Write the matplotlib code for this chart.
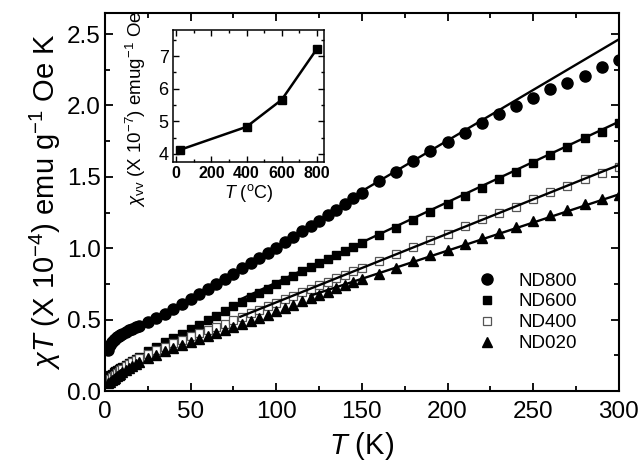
import numpy as np
import matplotlib
matplotlib.use("Agg")
import matplotlib.pyplot as plt
from matplotlib.ticker import MultipleLocator, FormatStrFormatter

plt.rcParams['font.family'] = ['Liberation Sans', 'DejaVu Sans']
plt.rcParams['mathtext.fontset'] = 'custom'
plt.rcParams['mathtext.rm'] = 'Liberation Sans'
plt.rcParams['mathtext.it'] = 'Liberation Sans:italic'
plt.rcParams['mathtext.bf'] = 'Liberation Sans:bold'

# temperature grid (K)
T = [2, 3, 4, 5, 6, 7, 8, 9, 10, 12, 14, 16, 18, 20,
     25, 30, 35, 40, 45, 50, 55, 60, 65, 70, 75, 80, 85, 90, 95, 100,
     105, 110, 115, 120, 125, 130, 135, 140, 145, 150,
     160, 170, 180, 190, 200, 210, 220, 230, 240, 250, 260, 270, 280, 290, 300]

nd800 = [0.29, 0.32, 0.34, 0.355, 0.365, 0.375, 0.385, 0.393, 0.40, 0.413, 0.425, 0.436, 0.446, 0.456,
         0.48, 0.51, 0.54, 0.575, 0.61, 0.645, 0.68, 0.715, 0.752, 0.788, 0.823, 0.86, 0.895, 0.93, 0.968, 1.005,
         1.043, 1.08, 1.118, 1.156, 1.194, 1.232, 1.27, 1.308, 1.35, 1.39,
         1.47, 1.535, 1.608, 1.68, 1.742, 1.806, 1.876, 1.94, 1.993, 2.052, 2.115, 2.155, 2.208, 2.272, 2.318]
nd600 = [0.10, 0.11, 0.12, 0.13, 0.138, 0.146, 0.154, 0.161, 0.168, 0.182, 0.196, 0.21, 0.224, 0.238,
         0.28, 0.31, 0.34, 0.37, 0.40, 0.432, 0.464, 0.496, 0.528, 0.56, 0.592, 0.623, 0.655, 0.686, 0.717, 0.748,
         0.778, 0.808, 0.838, 0.868, 0.897, 0.926, 0.955, 0.983, 1.01, 1.036,
         1.09, 1.142, 1.196, 1.255, 1.31, 1.363, 1.425, 1.485, 1.537, 1.595, 1.655, 1.712, 1.775, 1.815, 1.876]
nd400 = [0.075, 0.085, 0.095, 0.105, 0.115, 0.125, 0.135, 0.145, 0.155, 0.172, 0.188, 0.203, 0.216, 0.23,
         0.26, 0.285, 0.31, 0.335, 0.36, 0.385, 0.406, 0.428, 0.45, 0.472, 0.496, 0.52, 0.545, 0.57, 0.594, 0.618,
         0.642, 0.666, 0.69, 0.715, 0.74, 0.765, 0.79, 0.815, 0.838, 0.86,
         0.912, 0.962, 1.008, 1.055, 1.103, 1.153, 1.205, 1.247, 1.29, 1.345, 1.392, 1.435, 1.482, 1.528, 1.57]
nd020 = [0.055, 0.065, 0.075, 0.085, 0.094, 0.103, 0.112, 0.121, 0.13, 0.146, 0.161, 0.176, 0.19, 0.204,
         0.232, 0.255, 0.278, 0.30, 0.322, 0.345, 0.364, 0.384, 0.404, 0.424, 0.446, 0.468, 0.49, 0.512, 0.535, 0.558,
         0.581, 0.604, 0.627, 0.65, 0.673, 0.696, 0.719, 0.742, 0.764, 0.783,
         0.822, 0.865, 0.912, 0.95, 0.99, 1.028, 1.072, 1.108, 1.148, 1.19, 1.23, 1.27, 1.31, 1.342, 1.373]

# linear fits: (T start, T end), (value start, value end)
fit_T = {'ND800': [150, 300], 'ND600': [80, 300], 'ND400': [79, 300], 'ND020': [120, 300]}
fit_y = {'ND800': [1.40, 2.463], 'ND600': [0.647, 1.886], 'ND400': [0.52, 1.583], 'ND020': [0.668, 1.377]}

# inset: chi_vv vs annealing temperature
inset_T = [20, 400, 600, 800]
inset_chi = [4.12, 4.83, 5.66, 7.22]

fig = plt.figure(figsize=(6.4, 4.68), dpi=100)
ax = fig.add_axes([0.164, 0.1645, 0.803, 0.8085])

for name in fit_T:
    ax.plot(fit_T[name], fit_y[name], color='black', lw=1.7, zorder=3)

ax.plot(T, nd800, 'o', color='black', ms=8.0, label='ND800', zorder=2)
ax.plot(T, nd600, 's', color='black', ms=5.6, label='ND600', zorder=2)
ax.plot(T, nd400, 's', mfc='white', mec='#555555', mew=0.9, ms=5.6, label='ND400', zorder=2)
ax.plot(T, nd020, '^', color='black', ms=6.6, label='ND020', zorder=2)

ax.set_xlim(0, 300)
ax.set_ylim(0, 2.65)
ax.xaxis.set_major_locator(MultipleLocator(50))
ax.xaxis.set_minor_locator(MultipleLocator(25))
ax.yaxis.set_major_locator(MultipleLocator(0.5))
ax.yaxis.set_minor_locator(MultipleLocator(0.25))
ax.yaxis.set_major_formatter(FormatStrFormatter('%.1f'))
ax.tick_params(which='both', direction='in', top=True, right=True, labelsize=17.5, width=1.3)
ax.tick_params(which='major', length=6)
ax.tick_params(which='minor', length=3.5)
ax.tick_params(axis='x', pad=7)
ax.tick_params(axis='y', pad=3)
for s in ax.spines.values():
    s.set_linewidth(1.5)
ax.set_xlabel(r'$T$ (K)', fontsize=21, labelpad=5)
ax.set_ylabel(r'$\chi T$ (X 10$^{-4}$) emu g$^{-1}$ Oe K', fontsize=21, labelpad=3)

ax.legend(loc='upper left', bbox_to_anchor=(0.689, 0.358), frameon=False, fontsize=13.5,
          handletextpad=1.05, labelspacing=0.2, handlelength=1.2)

# inset
ins = fig.add_axes([0.270, 0.6545, 0.2364, 0.2814])
ins.plot(inset_T, inset_chi, 's-', color='black', lw=1.8, ms=5.5)
ins.set_xlim(-19, 841)
ins.set_ylim(3.76, 7.8)
ins.xaxis.set_major_locator(MultipleLocator(200))
ins.xaxis.set_minor_locator(MultipleLocator(100))
ins.yaxis.set_major_locator(MultipleLocator(1))
ins.yaxis.set_minor_locator(MultipleLocator(0.5))
ins.tick_params(which='both', direction='in', top=True, right=True, width=1.0)
ins.tick_params(which='major', length=4, pad=3)
ins.tick_params(which='minor', length=2)
ins.tick_params(axis='x', labelsize=11.5)
ins.tick_params(axis='y', labelsize=13)
for lbl in ins.get_xticklabels():
    lbl.set_fontweight('bold')
for s in ins.spines.values():
    s.set_linewidth(1.1)
ins.set_xlabel(r'$T$ ($^{\rm o}$C)', fontsize=13, labelpad=1)
ins.set_ylabel(r'$\chi_{\rm vv}$ (X 10$^{-7}$) emug$^{-1}$ Oe', fontsize=13.5)
ins.yaxis.set_label_coords(-0.165, 0.40)

fig.savefig('out.png', dpi=100)
